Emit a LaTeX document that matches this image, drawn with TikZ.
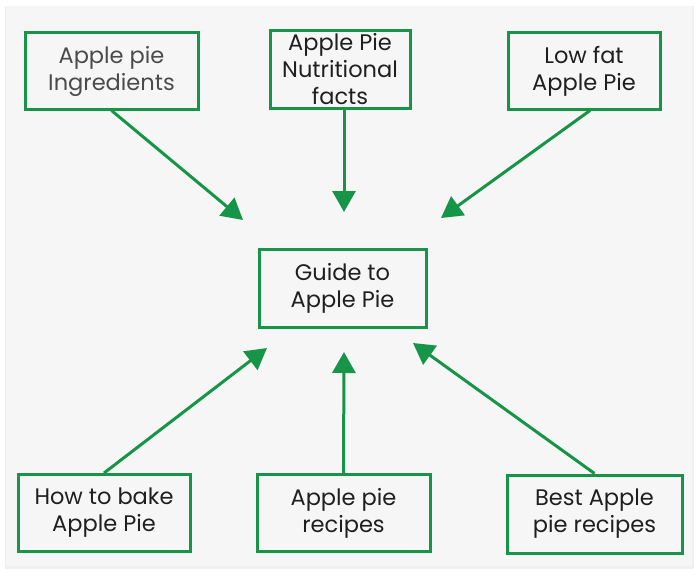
\documentclass[tikz,border=0pt]{standalone}
\usepackage{fontspec}
\setmainfont{Poppins}
\usetikzlibrary{arrows.meta}

\definecolor{leafgreen}{RGB}{22,148,72}
\definecolor{cardgray}{RGB}{246,246,246}
\definecolor{inkgray}{RGB}{75,75,75}

\tikzset{
  topic/.style={draw=leafgreen, line width=3pt, fill=cardgray, align=center,
    inner sep=0pt, font=\fontsize{22.5}{27}\selectfont, text=black!88},
  feed/.style={draw=leafgreen, line width=3pt,
    -{Triangle[length=21pt,width=23pt]}}
}

\begin{document}
\begin{tikzpicture}[x=1pt,y=-1pt]
\useasboundingbox (0,0) rectangle (700,575);
\fill[white] (0,0) rectangle (700,575);
\fill[black!6] (5,6) rectangle (694,569);
\fill[cardgray] (6,6) rectangle (692,566);

% outer topics
\node[topic, minimum width=173pt, minimum height=76pt, text=inkgray] (ingred) at (111.5,71) {Apple pie\\Ingredients};
\node[topic, minimum width=140pt, minimum height=77pt] (nutri) at (340,69.5) {Apple Pie\\Nutritional\\facts};
\node[topic, minimum width=152pt, minimum height=76pt] (lowfat) at (584,71) {Low fat\\Apple Pie};

% centre
\node[topic, minimum width=167pt, minimum height=78pt] (guide) at (342.5,288) {Guide to\\Apple Pie};

\node[topic, minimum width=172pt, minimum height=77pt] (bake) at (104,513) {How to bake\\Apple Pie};
\node[topic, minimum width=173pt, minimum height=77pt] (recipes) at (343.5,513) {Apple pie\\recipes};
\node[topic, minimum width=175pt, minimum height=78pt] (best) at (594.5,514) {Best Apple\\pie recipes};

% arrow ends
\coordinate (tipA) at (243,220);
\coordinate (tipB) at (344,212);
\coordinate (tipC) at (441,218);
\coordinate (tipD) at (267,348);
\coordinate (tipE) at (344,352);
\coordinate (tipF) at (413,343);

\draw[feed] (ingred.south) -- (tipA);
\draw[feed] ([xshift=4pt]nutri.south) -- (tipB);
\draw[feed] ([xshift=6pt]lowfat.south) -- (tipC);
\draw[feed] (bake.north) -- (tipD);
\draw[feed] (recipes.north) -- (tipE);
\draw[feed] (best.north) -- (tipF);
\end{tikzpicture}
\end{document}
